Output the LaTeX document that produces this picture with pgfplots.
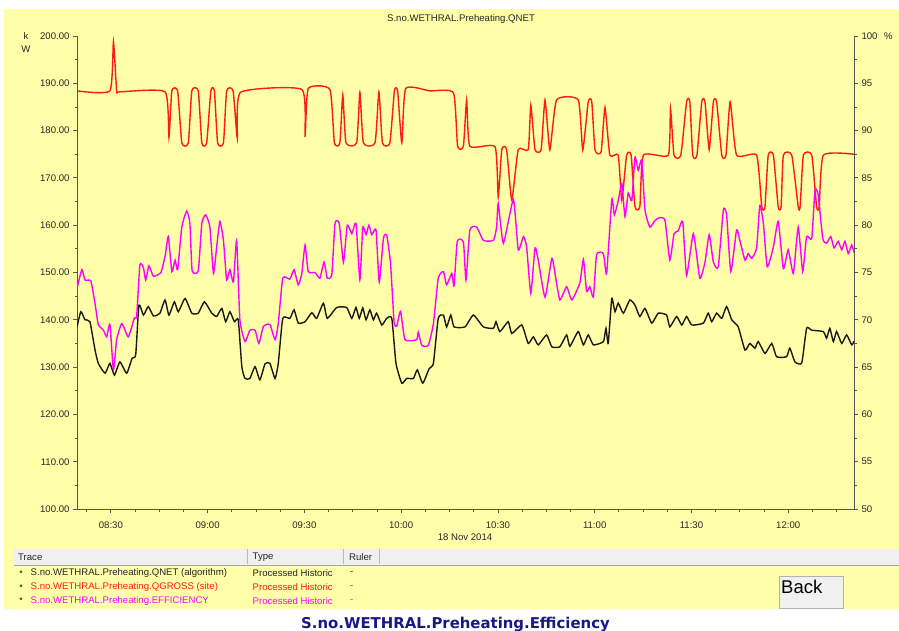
\documentclass[border=0pt]{standalone}
\usepackage{fontspec}
\setmainfont{Liberation Sans}
\newfontfamily\boldtitle{DejaVu Sans}
\usepackage{pgfplots}
\usepackage{pgfplotstable}
\pgfplotsset{compat=1.18}

\definecolor{bgyellow}{RGB}{255,255,170}
\definecolor{axgray}{RGB}{85,85,85}
\definecolor{qred}{RGB}{255,25,25}
\definecolor{qmag}{RGB}{255,0,255}
\definecolor{hdrgray}{RGB}{240,240,240}
\definecolor{navy}{RGB}{25,25,130}
\definecolor{dotgreen}{RGB}{40,120,40}

\pgfplotstableread{
t v
19.5 188.4
29.7 188.4
30.8 198.8
31.8 188.4
32.8 188.2
46.8 188.2
48.0 178.6
48.9 188.4
50.7 188.4
52.0 177.4
54.0 177.4
55.1 188.4
57.1 188.4
58.2 177.4
59.7 177.4
61.0 188.4
62.1 188.4
63.1 177.4
64.9 177.4
65.9 188.4
67.9 188.4
69.2 178.4
70.2 188.1
89.2 188.7
90.2 178.7
91.2 188.9
97.9 188.7
99.3 177.4
101.0 177.4
101.9 187.5
102.9 177.4
106.2 177.4
107.2 188.1
108.3 177.4
111.9 177.4
113.1 188.2
114.2 177.4
116.5 177.4
117.9 188.4
118.9 188.4
120.2 177.4
121.4 188.9
128.9 188.4
136.2 188.0
137.5 176.7
139.3 176.7
140.3 186.5
141.3 176.7
149.1 176.6
150.1 166.0
151.2 176.0
152.7 176.0
154.3 165.3
156.3 176.0
159.4 176.0
160.2 185.4
161.5 176.0
163.4 176.0
164.6 186.5
166.1 175.9
168.2 186.5
174.9 186.5
176.3 175.9
178.0 186.1
179.1 186.1
180.1 175.9
182.0 175.5
183.2 184.9
184.7 174.8
187.3 174.8
188.4 165.3
189.9 174.8
191.3 174.8
192.5 163.9
194.0 163.9
195.1 174.8
202.8 174.8
203.5 184.7
204.6 174.8
206.7 174.8
208.5 186.1
209.5 186.1
210.4 174.8
211.7 174.8
213.2 186.1
214.2 186.1
215.5 176.0
216.8 186.1
217.8 186.1
219.4 174.8
220.7 174.8
222.0 186.1
224.0 174.8
230.2 174.8
231.8 163.9
232.8 163.9
233.8 174.8
235.4 174.8
236.9 163.9
237.8 163.9
238.5 174.8
241.1 174.8
243.1 163.9
243.7 163.9
244.7 174.8
247.3 174.8
248.8 163.9
249.6 163.9
250.9 174.8
260.4 175.0
}\qgross

\pgfplotstableread{
t v
19.5 138.5
20.7 141.7
22.0 140.0
23.5 139.6
25.1 133.6
26.1 130.8
28.2 128.7
29.7 130.8
31.1 128.3
32.8 131.1
34.9 128.7
36.6 131.9
37.7 132.6
38.7 143.1
40.1 141.0
41.6 142.8
43.2 140.8
45.2 141.4
46.8 144.2
48.0 141.0
49.7 143.8
50.9 141.7
53.0 144.5
55.1 141.4
57.1 141.4
59.0 143.8
61.3 141.4
62.8 140.7
64.4 142.4
65.6 139.6
66.9 141.7
68.3 139.6
69.5 140.0
70.6 130.1
71.6 127.6
73.1 127.6
74.7 130.1
76.2 127.3
77.8 130.7
79.3 130.8
80.9 127.6
81.9 130.8
83.3 140.3
85.5 140.3
86.8 142.1
88.1 139.3
90.2 139.6
92.3 141.5
93.8 140.3
95.9 143.5
97.1 140.3
100.0 142.6
103.1 142.6
104.7 140.3
106.0 142.6
107.0 140.3
108.1 142.5
109.1 140.0
110.3 142.1
111.4 140.0
112.4 141.4
114.0 138.9
115.5 140.3
117.1 140.3
118.4 130.8
120.2 126.6
121.7 127.6
123.8 127.6
125.0 129.4
126.7 126.6
128.7 129.7
130.0 130.8
131.5 140.3
133.1 141.0
134.1 138.5
135.4 141.0
136.4 138.5
139.8 138.5
142.4 141.0
145.5 138.5
148.6 138.2
149.4 139.6
150.6 137.5
153.2 139.6
154.3 137.1
157.4 138.9
159.4 135.0
161.0 136.4
162.5 134.7
165.1 136.8
166.7 134.3
169.2 134.3
171.3 136.8
172.3 134.4
174.9 137.5
176.5 134.7
178.0 136.8
179.6 134.7
182.7 135.4
183.5 138.2
184.2 135.0
185.3 144.5
186.3 141.7
187.3 143.5
188.9 141.4
190.9 144.2
192.5 143.1
194.0 140.7
195.6 142.4
197.7 139.3
199.7 141.4
202.3 141.0
203.3 138.5
205.4 140.7
207.0 138.9
208.5 140.7
210.1 138.9
213.7 139.3
215.2 141.4
216.3 139.6
217.8 141.4
219.4 140.3
220.9 142.8
222.5 140.0
224.5 138.5
226.6 133.6
228.1 135.0
229.7 134.0
230.7 135.4
232.8 132.9
234.9 135.0
236.4 132.2
239.5 132.2
240.5 134.0
242.1 131.1
244.2 130.9
245.7 138.2
247.3 137.8
250.9 137.5
251.9 136.1
252.9 138.2
254.0 135.4
255.0 137.5
256.6 135.0
258.1 136.8
259.7 134.7
260.4 135.5
}\qnet

\pgfplotstableread{
t v
19.5 73.3
21.0 75.3
22.0 74.2
23.8 74.1
25.1 71.7
26.1 69.5
27.7 68.9
28.7 68.2
29.7 69.5
30.8 64.7
31.8 67.9
33.4 69.6
35.4 68.2
37.3 70.2
38.0 70.4
39.0 75.8
40.1 75.5
40.8 74.2
41.8 75.7
43.2 74.6
45.5 75.0
46.8 76.7
47.8 78.8
48.9 75.1
49.9 76.3
50.7 75.3
52.0 79.8
53.5 81.5
54.5 80.2
55.2 75.2
57.1 75.2
58.2 80.2
59.4 81.1
60.7 79.8
61.8 74.9
62.8 77.7
63.8 80.4
64.9 78.4
65.9 74.2
66.9 75.3
68.0 74.0
69.0 78.4
70.0 70.0
71.6 67.7
73.1 68.9
74.7 68.9
75.9 67.5
77.3 69.3
79.3 69.5
80.9 67.9
81.9 69.6
83.3 74.4
85.5 74.3
86.8 75.3
88.1 73.7
89.2 74.9
90.2 77.9
91.2 75.1
93.3 75.0
94.8 74.4
96.1 76.1
97.1 74.4
98.5 74.8
99.5 80.2
100.8 80.2
102.1 76.1
103.3 80.0
104.7 79.1
106.0 80.2
107.2 74.2
108.1 79.8
109.1 79.0
110.0 80.0
110.9 79.0
112.2 79.5
113.2 74.0
114.5 78.6
115.5 79.0
116.7 76.0
117.8 69.8
118.6 69.3
119.8 70.9
121.2 67.9
124.8 67.9
125.3 68.7
126.4 67.3
128.4 67.3
130.0 69.6
131.5 74.4
133.1 75.1
134.1 73.7
135.7 74.9
136.4 73.6
137.4 78.3
139.3 78.2
140.1 74.2
141.3 79.5
143.4 79.8
145.5 78.4
148.6 78.4
149.6 79.8
150.1 82.3
151.7 78.1
154.8 82.7
156.3 77.4
157.9 78.8
158.9 77.7
160.2 72.8
161.5 77.6
162.5 76.3
164.6 72.4
166.7 76.5
167.7 74.9
169.2 72.1
171.3 73.5
172.9 72.1
175.4 73.9
176.5 76.4
177.5 73.0
178.5 73.5
179.6 72.4
180.6 76.9
182.7 77.0
183.7 74.9
185.3 82.7
186.1 81.1
187.3 82.6
188.4 84.4
189.4 80.9
190.4 83.4
191.5 82.6
192.5 87.2
193.5 85.8
194.6 86.9
195.6 81.6
197.1 79.8
198.7 80.5
200.2 80.8
201.8 80.5
203.3 76.3
204.6 79.1
205.9 79.4
207.3 80.4
208.5 74.7
210.6 79.1
212.6 74.4
214.2 76.1
215.5 79.0
216.8 76.1
218.3 75.6
219.9 81.6
220.9 81.1
222.2 75.1
224.0 79.5
225.0 78.4
226.6 76.3
227.6 77.0
228.7 76.5
230.2 77.6
231.2 82.1
232.3 80.2
233.5 75.6
235.4 77.7
236.9 80.4
238.5 75.4
240.0 77.4
241.6 74.9
243.1 79.8
244.5 75.1
245.7 78.8
247.3 78.6
248.3 83.7
249.3 83.2
250.7 78.6
251.9 78.1
253.2 78.8
254.2 77.6
255.5 78.3
256.6 77.4
257.6 78.3
258.6 77.0
259.7 77.9
260.4 77.1
}\qeff

\newcommand{\sm}{\fontsize{9.6}{11}\selectfont}

\begin{document}
\begin{tikzpicture}
\path[use as bounding box] (0pt,0pt) rectangle (899pt,630pt);
\clip (0pt,0pt) rectangle (899pt,630pt);
\begin{scope}[x=1pt,y=1pt]
\fill[white] (0,0) rectangle (899,630);
\fill[bgyellow] (4,21) rectangle (899,621);
% trace table header
\fill[hdrgray] (14,65) rectangle (899,81);
\draw[gray!70, line width=1pt] (14,65) -- (899,65);
\foreach \xx in {247.5,343.5,379} {\draw[gray!55, line width=0.8pt] (\xx,66) -- (\xx,81);}
\node[anchor=west, inner sep=0pt, font=\sm, text=black!85] at (18,72.5) {Trace};
\node[anchor=west, inner sep=0pt, font=\sm, text=black!85] at (252.5,72.5) {Type};
\node[anchor=west, inner sep=0pt, font=\sm, text=black!85] at (349,72.5) {Ruler};
% rows
\node[anchor=center, inner sep=0pt, font=\sm, text=dotgreen] at (21,56.7) {•};
\node[anchor=center, inner sep=0pt, font=\sm, text=dotgreen] at (21,42.7) {•};
\node[anchor=center, inner sep=0pt, font=\sm, text=dotgreen] at (21,29.3) {•};
\node[anchor=west, inner sep=0pt, font=\sm, text=black!85] at (30.5,56.7) {S.no.WETHRAL.Preheating.QNET (algorithm)};
\node[anchor=west, inner sep=0pt, font=\sm, text=qred] at (30.5,42.7) {S.no.WETHRAL.Preheating.QGROSS (site)};
\node[anchor=west, inner sep=0pt, font=\sm, text=qmag] at (30.5,29.3) {S.no.WETHRAL.Preheating.EFFICIENCY};
\node[anchor=west, inner sep=0pt, font=\sm, text=black!85] at (252.5,56.7) {Processed Historic};
\node[anchor=west, inner sep=0pt, font=\sm, text=qred] at (252.5,42.7) {Processed Historic};
\node[anchor=west, inner sep=0pt, font=\sm, text=qmag] at (252.5,29.3) {Processed Historic};
\node[anchor=west, inner sep=0pt, font=\sm, text=black!85] at (350,56.7) {-};
\node[anchor=west, inner sep=0pt, font=\sm, text=qred] at (350,42.7) {-};
\node[anchor=west, inner sep=0pt, font=\sm, text=qmag] at (350,29.3) {-};
% back button
\filldraw[fill=hdrgray, draw=gray!60, line width=1pt] (779,22) rectangle (843,54);
\node[anchor=west, inner sep=0pt, font=\fontsize{18.5}{20}\selectfont] at (781,43.5) {Back};
% bottom title
\node[anchor=base, inner sep=0pt, font=\boldtitle\bfseries\fontsize{14.9}{16}\selectfont, text=navy] at (455.5,2) {S.no.WETHRAL.Preheating.Efficiency};
% chart title and unit labels
\node[inner sep=0pt, font=\sm, text=black!85] at (461,611) {S.no.WETHRAL.Preheating.QNET};
\node[inner sep=0pt, font=\sm, text=black!85] at (26,594) {k};
\node[inner sep=0pt, font=\sm, text=black!85] at (26,581) {W};
\node[anchor=west, inner sep=0pt, font=\sm, text=black!85] at (884,594) {\%};
\node[inner sep=0pt, font=\sm, text=black!85] at (465,92.5) {18 Nov 2014};
\end{scope}

\begin{axis}[
  at={(77pt,121pt)}, anchor=south west,
  scale only axis, width=777pt, height=473pt,
  xmin=19.5, xmax=260.4, ymin=100, ymax=200,
  axis x line*=bottom, axis y line*=left,
  axis line style={axgray, line width=1pt, -},
  tick align=outside,
  xtick={30,60,90,120,150,180,210,240},
  xticklabels={08:30,09:00,09:30,10:00,10:30,11:00,11:30,12:00},
  minor xtick={22.5,37.5,45,52.5,67.5,75,82.5,97.5,105,112.5,127.5,135,142.5,157.5,165,172.5,187.5,195,202.5,217.5,225,232.5,247.5,255},
  ytick={100,110,...,200},
  minor ytick={105,115,...,195},
  major tick length=4pt, minor tick length=2.5pt,
  every tick/.style={axgray, line width=0.8pt},
  /pgf/number format/assume math mode=true,
  yticklabel style={/pgf/number format/fixed, /pgf/number format/fixed zerofill, /pgf/number format/precision=2, font=\sm, text=black!85},
  xticklabel style={font=\sm, text=black!85, yshift=-5pt},
  scaled y ticks=false,
]
\addplot[qred, line width=1.4pt, smooth, tension=0.3] table[x=t, y=v] {\qgross};
\addplot[black!90, line width=1.4pt, smooth, tension=0.3] table[x=t, y=v] {\qnet};
\end{axis}

\begin{axis}[
  at={(77pt,121pt)}, anchor=south west,
  scale only axis, width=777pt, height=473pt,
  xmin=19.5, xmax=260.4, ymin=50, ymax=100,
  axis x line=none, axis y line*=right,
  axis line style={axgray, line width=1pt, -},
  tick align=outside,
  ytick={50,55,...,100},
  minor ytick={52.5,57.5,...,97.5},
  major tick length=4pt, minor tick length=2.5pt,
  every tick/.style={axgray, line width=0.8pt},
  /pgf/number format/assume math mode=true,
  yticklabel style={font=\sm, text=black!85},
]
\addplot[qmag, line width=1.4pt, smooth, tension=0.3] table[x=t, y=v] {\qeff};
\end{axis}
\end{tikzpicture}
\end{document}
